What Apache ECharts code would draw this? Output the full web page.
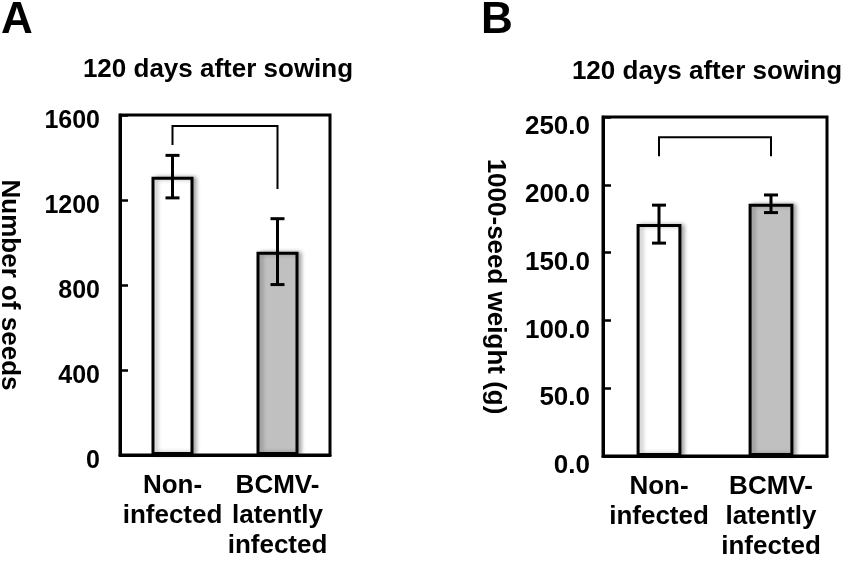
<!DOCTYPE html>
<html>
<head>
<meta charset="utf-8">
<script src="https://cdn.jsdelivr.net/npm/echarts@6/dist/echarts.min.js"></script>
<style>
  html, body { margin: 0; padding: 0; background: #fff; }
  #main { width: 854px; height: 571px; }
</style>
</head>
<body>
<div id="main"></div>
<script>
// categories
var groups = ['Non-\ninfected', 'BCMV-\nlatently\ninfected'];

// panel A: number of seeds
var seedsMean = [1310, 957];
var seedsErr = [100, 155];
var seedsTicks = [0, 1600, 400];
// bracket A: [left x, top y, right x, left leg end, right leg end]
var seedsBracket = [0, 1548, 1, 1459, 1252];

// panel B: 1000-seed weight
var weightMean = [171, 186];
var weightErr = [14, 6.5];
var weightTicks = [0, 250, 50];
var weightBracket = [0, 235, 1, 221, 221];

var panelTitle = '120 days after sowing';
var barColors = ['#ffffff', '#c0c0c0'];

var font = 'Liberation Sans, Arial, sans-serif';
var chart = echarts.init(document.getElementById('main'));

// 误差线
function errItem(params, api) {
  var x = api.value(0), m = api.value(1), e = api.value(2);
  var hi = api.coord([x, m + e]);
  var lo = api.coord([x, m - e]);
  var w = 7;
  var st = { stroke: '#000', lineWidth: 3 };
  return {
    type: 'group',
    children: [
      { type: 'line', shape: { x1: hi[0], y1: hi[1], x2: lo[0], y2: lo[1] }, style: st },
      { type: 'line', shape: { x1: hi[0] - w, y1: hi[1], x2: hi[0] + w, y2: hi[1] }, style: st },
      { type: 'line', shape: { x1: lo[0] - w, y1: lo[1], x2: lo[0] + w, y2: lo[1] }, style: st }
    ]
  };
}

// 括号
function bracketItem(params, api) {
  var top = api.value(1);
  var a = api.coord([api.value(0), api.value(3)]);
  var b = api.coord([api.value(0), top]);
  var c = api.coord([api.value(2), top]);
  var d = api.coord([api.value(2), api.value(4)]);
  return {
    type: 'polyline',
    shape: { points: [a, b, c, d] },
    style: { stroke: '#000', lineWidth: 2, fill: null }
  };
}

function errData(mean, err) {
  var out = [];
  for (var i = 0; i < mean.length; i++) out.push([i, mean[i], err[i]]);
  return out;
}

function barData(mean) {
  var out = [];
  for (var i = 0; i < mean.length; i++) {
    out.push({ value: mean[i], itemStyle: { color: barColors[i] } });
  }
  return out;
}

function xAxisOf(idx) {
  return {
    type: 'category', gridIndex: idx, data: groups,
    axisLine: { lineStyle: { color: '#000', width: 3 } },
    axisTick: { show: false },
    axisLabel: {
      color: '#000', fontFamily: font, fontWeight: 'bold', fontSize: 26,
      lineHeight: 30, margin: 16, interval: 0
    }
  };
}

function yAxisOf(idx, ticks, name, gap, labelMargin, shift, size, fmt) {
  return {
    type: 'value', gridIndex: idx,
    min: ticks[0], max: ticks[1], interval: ticks[2],
    name: name, nameLocation: 'middle', nameRotate: -90, nameGap: gap,
    nameTextStyle: { color: '#000', fontFamily: font, fontWeight: 'bold', fontSize: 26 },
    axisLine: { show: true, lineStyle: { color: '#000', width: 3 } },
    axisTick: { show: true, inside: true, length: 8, lineStyle: { color: '#000', width: 2.5 } },
    splitLine: { show: false },
    axisLabel: {
      color: '#000', fontFamily: font, fontWeight: 'bold', fontSize: size,
      margin: labelMargin,
      formatter: function (v) { return '{t|' + fmt(v) + '}'; },
      rich: {
        t: { color: '#000', fontFamily: font, fontWeight: 'bold', fontSize: size, padding: [shift * 2, 0, 0, 0] }
      }
    }
  };
}

var option = {
  backgroundColor: '#fff',
  animation: false,
  grid: [
    { left: 120, right: 524, top: 115, bottom: 116, outerBoundsMode: 'none', show: true, borderColor: '#000', borderWidth: 3 },
    { left: 603, right: 27, top: 117, bottom: 115, outerBoundsMode: 'none', show: true, borderColor: '#000', borderWidth: 3 }
  ],
  graphic: [
    { type: 'text', x: 1, y: 21, style: { text: 'A', font: 'bold 44px ' + font, fill: '#000', verticalAlign: 'middle' } },
    { type: 'text', x: 481, y: 21, style: { text: 'B', font: 'bold 44px ' + font, fill: '#000', verticalAlign: 'middle' } },
    { type: 'text', x: 218, y: 70, style: { text: panelTitle, font: 'bold 26px ' + font, fill: '#000', align: 'center', verticalAlign: 'middle' } },
    { type: 'text', x: 707, y: 72, style: { text: panelTitle, font: 'bold 26px ' + font, fill: '#000', align: 'center', verticalAlign: 'middle' } }
  ],
  xAxis: [xAxisOf(0), xAxisOf(1)],
  yAxis: [
    yAxisOf(0, seedsTicks, 'Number of seeds', 98, 20, 6, 25, function (v) { return v; }),
    yAxisOf(1, weightTicks, '1000-seed weight (g)', 95, 13, 10, 26, function (v) { return v.toFixed(1); })
  ],
  series: [
    {
      type: 'bar', xAxisIndex: 0, yAxisIndex: 0, barWidth: '40%',
      data: barData(seedsMean),
      itemStyle: { borderColor: '#000', borderWidth: 3, shadowBlur: 4, shadowOffsetX: 3, shadowColor: 'rgba(0,0,0,0.3)' }
    },
    { type: 'custom', xAxisIndex: 0, yAxisIndex: 0, z: 5, renderItem: errItem, data: errData(seedsMean, seedsErr) },
    { type: 'custom', xAxisIndex: 0, yAxisIndex: 0, z: 5, renderItem: bracketItem, encode: { x: 0, y: 1 }, data: [seedsBracket] },
    {
      type: 'bar', xAxisIndex: 1, yAxisIndex: 1, barWidth: '40%',
      data: barData(weightMean),
      itemStyle: { borderColor: '#000', borderWidth: 3, shadowBlur: 4, shadowOffsetX: 3, shadowColor: 'rgba(0,0,0,0.3)' }
    },
    { type: 'custom', xAxisIndex: 1, yAxisIndex: 1, z: 5, renderItem: errItem, data: errData(weightMean, weightErr) },
    { type: 'custom', xAxisIndex: 1, yAxisIndex: 1, z: 5, renderItem: bracketItem, encode: { x: 0, y: 1 }, data: [weightBracket] }
  ]
};

chart.setOption(option);
</script>
</body>
</html>
